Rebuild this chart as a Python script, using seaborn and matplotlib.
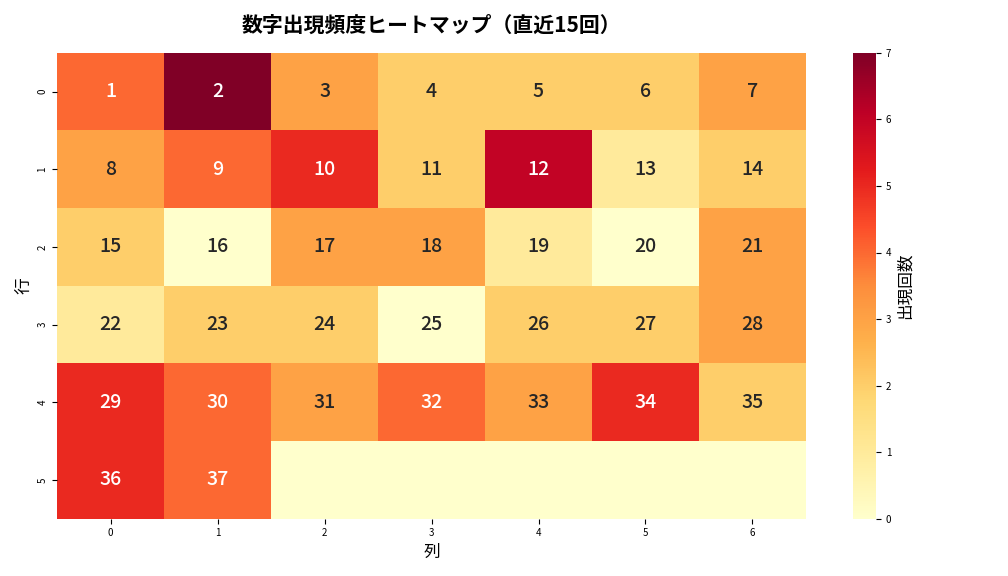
import numpy as np
import pandas as pd
import seaborn as sns
import matplotlib.pyplot as plt

plt.rcParams['font.family'] = 'Noto Sans CJK JP'

row0 = [4, 7, 3, 2, 2, 2, 3]
row1 = [3, 4, 5, 2, 6, 1, 2]
row2 = [2, 0, 3, 3, 1, 0, 3]
row3 = [1, 2, 2, 0, 2, 2, 3]
row4 = [5, 4, 3, 4, 3, 5, 2]
row5 = [5, 4, 0, 0, 0, 0, 0]
numbers = list(range(1, 38))

counts = np.array([row0, row1, row2, row3, row4, row5])
labels = np.array([str(n) for n in numbers] + [''] * 5).reshape(6, 7)

fig, ax = plt.subplots(figsize=(10.08, 5.76), dpi=100)
sns.heatmap(counts, annot=labels, fmt='', cmap='YlOrRd', vmin=0, vmax=7,
            annot_kws={'fontsize': 14, 'fontweight': 'medium'},
            cbar_kws={'label': '出現回数'}, ax=ax)
ax.set_title('数字出現頻度ヒートマップ（直近15回）', fontsize=15, fontweight='bold', pad=15)
ax.set_xlabel('列', fontsize=12)
ax.set_ylabel('行', fontsize=12)
ax.tick_params(labelsize=7)
cb = ax.collections[0].colorbar
cb.ax.tick_params(labelsize=7)
cb.set_label('出現回数', fontsize=12)
plt.tight_layout()
plt.savefig('out.png', dpi=100)
